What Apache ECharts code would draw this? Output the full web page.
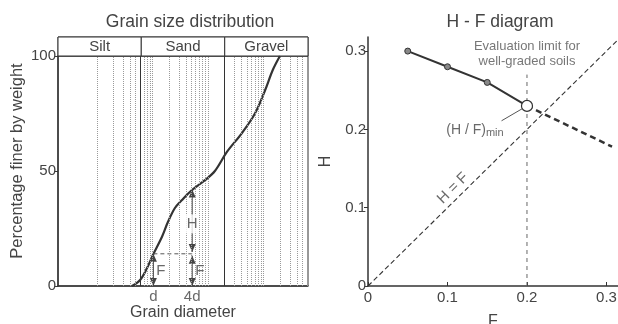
<!DOCTYPE html>
<html>
<head>
<meta charset="utf-8">
<script src="https://cdn.jsdelivr.net/npm/echarts@6/dist/echarts.min.js"></script>
<style>
  html, body { margin: 0; padding: 0; background: #fff; }
  #chart { width: 618px; height: 324px; }
</style>
</head>
<body>
<div id="chart"></div>
<script>
// --- grain size distribution (left panel) ---
const BANDS = ['Silt', 'Sand', 'Gravel'];
const BAND_EDGES = [0.002, 0.063, 2, 63];
const GRID_DECADES = [0.001, 0.01, 0.1, 1, 10];
const GRID_STEPS = [1, 2, 3, 4, 5, 6, 7, 8, 9];
const DIAMETER = [0.043, 0.06, 0.08, 0.102, 0.148, 0.19, 0.254, 0.34, 0.514, 0.881, 1.33, 2.19, 4.08, 6.99, 10.6, 14.7, 19.7];
const FINER = [0, 2.6, 7.8, 13.5, 21.3, 27.8, 33.9, 37.4, 41.7, 46, 50, 58.3, 66.5, 75, 85, 94, 100];
const PCT_TICKS = [0, 50, 100];
const MARK_D = [0.104, 0.52];
const MARK_NAMES = ['d', '4d'];
const F_LEVEL = 14;
const H_LEVEL = 42;

// --- H - F diagram (right panel) ---
const HF_F = [0.05, 0.10, 0.15, 0.20];
const HF_H = [0.30, 0.28, 0.26, 0.23];
const TREND_F = [0.20, 0.307];
const TREND_H = [0.23, 0.178];
const EQUAL_LINE = [0, 0.33];
const HF_TICKS = [0, 0.1, 0.2, 0.3];
const F_MAX = 0.3145;
const H_MAX = 0.318;
const LIMIT_F = 0.2;
const LIMIT_TOP = 0.27;

const TXT = '#444';
const INK = '#333';
const FONT = "'Liberation Sans', Arial, sans-serif";

const chart = echarts.init(document.getElementById('chart'), null, { renderer: 'canvas' });

const gridLines = [];
GRID_DECADES.forEach(dec => {
  GRID_STEPS.forEach(s => {
    const v = +(dec * s).toPrecision(3);
    if (v > BAND_EDGES[0] && v < BAND_EDGES[3]) gridLines.push({ xAxis: v });
  });
});

function arrow(x, y0, y1) {
  return {
    type: 'line', xAxisIndex: 0, yAxisIndex: 0, silent: true, clip: false, z: 4,
    symbol: 'triangle', symbolSize: [7, 8], showSymbol: true,
    data: [
      { value: [x, y0], symbolRotate: 180, symbolOffset: [0, -4] },
      { value: [x, y1], symbolRotate: 0, symbolOffset: [0, 4] }
    ],
    lineStyle: { color: TXT, width: 1 },
    itemStyle: { color: TXT }
  };
}

function textAt(x, y, label) {
  return { value: [x, y], label: Object.assign({ show: true, color: TXT, fontFamily: FONT }, label) };
}

const option = {
  animation: false,
  textStyle: { fontFamily: FONT },
  title: [
    { text: 'Grain size distribution', left: 185, top: 8, textAlign: 'center',
      textStyle: { fontSize: 17.5, fontWeight: 'normal', color: TXT } },
    { text: 'H - F diagram', left: 495, top: 8, textAlign: 'center',
      textStyle: { fontSize: 17.5, fontWeight: 'normal', color: TXT } }
  ],
  grid: [
    { left: 58, top: 56, width: 250, height: 230, show: true, borderColor: INK, borderWidth: 1,
      outerBoundsMode: 'none' },
    { left: 58, top: 37, width: 250, height: 19, show: true, borderColor: INK, borderWidth: 1,
      outerBoundsMode: 'none' },
    { left: 368, top: 37, width: 250, height: 249, outerBoundsMode: 'none' }
  ],
  xAxis: [
    { type: 'log', gridIndex: 0, min: BAND_EDGES[0], max: BAND_EDGES[3], logBase: 10,
      axisLine: { lineStyle: { color: INK, width: 1.5 } },
      axisTick: { show: false }, axisLabel: { show: false }, splitLine: { show: false },
      name: 'Grain diameter', nameLocation: 'middle', nameGap: 19,
      nameTextStyle: { fontSize: 16, color: TXT } },
    { type: 'log', gridIndex: 1, min: BAND_EDGES[0], max: BAND_EDGES[3], logBase: 10, show: false },
    { type: 'value', gridIndex: 2, min: 0, max: F_MAX,
      axisLine: { lineStyle: { color: INK, width: 1.5 } },
      axisTick: { inside: true, length: 4, customValues: HF_TICKS, lineStyle: { color: INK } },
      axisLabel: { customValues: HF_TICKS, fontSize: 15, color: TXT, margin: 4 },
      splitLine: { show: false },
      name: 'F', nameLocation: 'middle', nameGap: 28,
      nameTextStyle: { fontSize: 16, color: TXT } }
  ],
  yAxis: [
    { type: 'value', gridIndex: 0, min: 0, max: 100, interval: 50,
      axisLine: { lineStyle: { color: INK, width: 1.5 } },
      axisTick: { length: 4, lineStyle: { color: INK } },
      axisLabel: { fontSize: 15, color: TXT, margin: 2, customValues: PCT_TICKS },
      splitLine: { show: false },
      name: 'Percentage finer by weight', nameLocation: 'middle', nameGap: 32,
      nameTextStyle: { fontSize: 16.5, color: TXT, padding: [0, 0, 0, 20] } },
    { type: 'value', gridIndex: 1, min: 0, max: 1, show: false },
    { type: 'value', gridIndex: 2, min: 0, max: H_MAX,
      axisLine: { lineStyle: { color: INK, width: 1.5 } },
      axisTick: { length: 4, customValues: HF_TICKS, lineStyle: { color: INK } },
      axisLabel: { customValues: HF_TICKS, fontSize: 15, color: TXT, margin: 2 },
      splitLine: { show: false },
      name: 'H', nameLocation: 'middle', nameGap: 34,
      nameTextStyle: { fontSize: 16, color: TXT } }
  ],
  series: [
    // log grid and band separators
    { type: 'line', xAxisIndex: 0, yAxisIndex: 0, data: [], silent: true, z: 1,
      markLine: { silent: true, symbol: 'none', label: { show: false }, animation: false,
        lineStyle: { color: '#9a9a9a', type: 'dotted', width: 1 },
        data: gridLines } },
    { type: 'line', xAxisIndex: 0, yAxisIndex: 0, data: [], silent: true, z: 2,
      markLine: { silent: true, symbol: 'none', label: { show: false }, animation: false,
        lineStyle: { color: INK, type: 'solid', width: 1 },
        data: BAND_EDGES.slice(1, 3).map(v => ({ xAxis: v })) } },
    // band header
    { type: 'line', xAxisIndex: 1, yAxisIndex: 1, data: [], silent: true,
      markArea: { silent: true, animation: false,
        itemStyle: { color: '#fff', borderColor: INK, borderWidth: 1 },
        label: { show: true, position: 'inside', fontSize: 15, color: TXT, fontFamily: FONT },
        data: BANDS.map((b, i) => [
          { name: b, xAxis: BAND_EDGES[i], yAxis: 0 },
          { xAxis: BAND_EDGES[i + 1], yAxis: 1 }
        ]) } },
    // grading curve
    { type: 'line', xAxisIndex: 0, yAxisIndex: 0, z: 3, smooth: 0.35, symbol: 'none',
      data: DIAMETER.map((d, i) => [d, FINER[i]]),
      lineStyle: { color: INK, width: 2.2 } },
    // F / H construction
    { type: 'line', xAxisIndex: 0, yAxisIndex: 0, z: 3, symbol: 'none', silent: true,
      data: [[MARK_D[0], F_LEVEL], [MARK_D[1], F_LEVEL]],
      lineStyle: { color: '#555', width: 1, type: [4, 3] } },
    arrow(MARK_D[0], 0, F_LEVEL),
    arrow(MARK_D[1], 0, F_LEVEL - 0.8),
    arrow(MARK_D[1], F_LEVEL + 0.8, H_LEVEL),
    { type: 'scatter', xAxisIndex: 0, yAxisIndex: 0, symbolSize: 0, clip: false, silent: true, z: 6,
      data: [
        textAt(MARK_D[0], 0, { formatter: MARK_NAMES[0], position: 'bottom', distance: 3, fontSize: 15 }),
        textAt(MARK_D[1], 0, { formatter: MARK_NAMES[1], position: 'bottom', distance: 3, fontSize: 15 }),
        textAt(MARK_D[0], 6.5, { formatter: 'F', position: 'right', distance: 3, fontSize: 15 }),
        textAt(MARK_D[1], 6.5, { formatter: 'F', position: 'right', distance: 3, fontSize: 15 }),
        textAt(MARK_D[1], 27, { formatter: 'H', position: 'inside', fontSize: 15,
          backgroundColor: '#fff', padding: [2, 1] })
      ] },

    // ---- right panel ----
    { type: 'line', xAxisIndex: 2, yAxisIndex: 2, data: [], silent: true,
      markLine: { silent: true, symbol: 'none', label: { show: false }, animation: false,
        lineStyle: { color: '#999', type: 'dotted', width: 1 },
        data: [{ yAxis: H_MAX }] } },
    { type: 'line', xAxisIndex: 2, yAxisIndex: 2, symbol: 'none', silent: true,
      data: [[EQUAL_LINE[0], EQUAL_LINE[0]], [EQUAL_LINE[1], EQUAL_LINE[1]]],
      lineStyle: { color: INK, width: 1.1, type: [5, 3] } },
    { type: 'line', xAxisIndex: 2, yAxisIndex: 2, symbol: 'none', silent: true,
      data: [[LIMIT_F, 0], [LIMIT_F, LIMIT_TOP]],
      lineStyle: { color: '#666', width: 1, type: [4, 4] } },
    { type: 'line', xAxisIndex: 2, yAxisIndex: 2, symbol: 'none', silent: true,
      data: TREND_F.map((f, i) => [f, TREND_H[i]]),
      lineStyle: { color: INK, width: 2.5, type: [6, 4] } },
    { type: 'line', xAxisIndex: 2, yAxisIndex: 2, symbol: 'none', silent: true,
      data: [[0.168, 0.211], [0.195, 0.227]],
      lineStyle: { color: '#555', width: 1 } },
    { type: 'line', xAxisIndex: 2, yAxisIndex: 2, z: 5, symbol: 'circle', symbolSize: 6,
      data: HF_F.map((f, i) => {
        const last = i === HF_F.length - 1;
        return last
          ? { value: [f, HF_H[i]], symbolSize: 11, itemStyle: { color: '#fff', borderColor: INK, borderWidth: 1.2 } }
          : { value: [f, HF_H[i]] };
      }),
      lineStyle: { color: INK, width: 2 },
      itemStyle: { color: '#888', borderColor: INK, borderWidth: 1 } },
    { type: 'scatter', xAxisIndex: 2, yAxisIndex: 2, symbolSize: 0, clip: false, silent: true, z: 6,
      data: [
        textAt(LIMIT_F, 0.296, { formatter: 'Evaluation limit for\nwell-graded soils',
          position: 'inside', fontSize: 13, lineHeight: 15, color: '#555' }),
        textAt(0.107, 0.125, { formatter: 'H = F', position: 'inside', rotate: 45, fontSize: 15 }),
        textAt(0.1346, 0.199, { formatter: '{m|(H / F)}{s|min}', position: 'inside',
          rich: { m: { fontSize: 14, color: TXT, fontFamily: FONT },
                  s: { fontSize: 11, color: TXT, fontFamily: FONT, verticalAlign: 'bottom', padding: [6, 0, 0, 0] } } })
      ] }
  ]
};

chart.setOption(option);
</script>
</body>
</html>
